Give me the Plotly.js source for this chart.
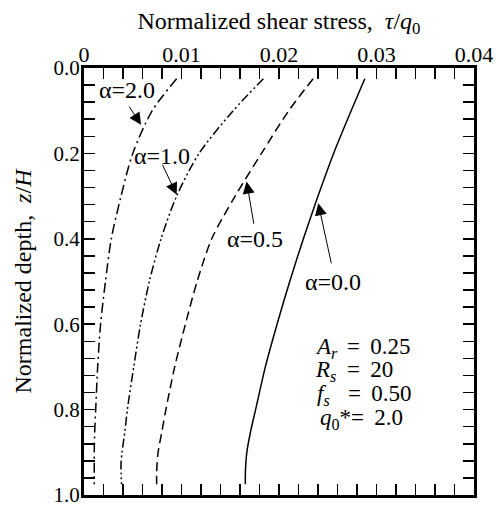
<!DOCTYPE html>
<html>
<head>
<meta charset="utf-8">
<script src="https://cdn.plot.ly/plotly-3.0.1.min.js"></script>
<style>
  html, body { margin: 0; padding: 0; background: #ffffff; }
  #chart { width: 496px; height: 506px; }
</style>
</head>
<body>
<div id="chart"></div>
<script>
// Normalized depth z/H (shared by all curves)
const depth = [0.025, 0.1, 0.2, 0.3, 0.4, 0.5, 0.6, 0.7, 0.8, 0.85, 0.9, 0.925, 0.95, 0.975];

// Normalized shear stress tau/q0 for each alpha
const tauAlpha00 = [0.0288, 0.0274, 0.0256, 0.0240, 0.0225, 0.0211, 0.0198, 0.0186, 0.0176, 0.0171, 0.0167, 0.0166, 0.01655, 0.01655];
const tauAlpha05 = [0.0235, 0.0210, 0.0182, 0.0155, 0.0131, 0.0116, 0.0104, 0.0093, 0.0084, 0.0080, 0.0076, 0.0075, 0.00745, 0.00745];
const tauAlpha10 = [0.0184, 0.0153, 0.0118, 0.0095, 0.0079, 0.0067, 0.0058, 0.0051, 0.00445, 0.0042, 0.0039, 0.0038, 0.0038, 0.00385];
const tauAlpha20 = [0.0095, 0.0070, 0.0050, 0.0038, 0.0028, 0.0022, 0.0017, 0.0014, 0.0012, 0.0011, 0.00105, 0.00105, 0.00105, 0.00105];

const seriesNames = ['α=0.0', 'α=0.5', 'α=1.0', 'α=2.0'];

// Axis ticks
const xTickVals = [0, 0.002, 0.004, 0.006, 0.008, 0.01, 0.012, 0.014, 0.016, 0.018, 0.02,
                   0.022, 0.024, 0.026, 0.028, 0.03, 0.032, 0.034, 0.036, 0.038, 0.04];
const xTickText = ['0', '', '', '', '', '0.01', '', '', '', '', '0.02',
                   '', '', '', '', '0.03', '', '', '', '', '0.04'];
const yTickVals = [0, 0.04, 0.08, 0.12, 0.16, 0.2, 0.24, 0.28, 0.32, 0.36, 0.4, 0.44, 0.48,
                   0.52, 0.56, 0.6, 0.64, 0.68, 0.72, 0.76, 0.8, 0.84, 0.88, 0.92, 0.96, 1.0];
const yTickText = ['0.0', '', '', '', '', '0.2', '', '', '', '', '0.4', '', '',
                   '', '', '0.6', '', '', '', '', '0.8', '', '', '', '', '1.0'];

// Curve labels and their arrows
const labelText = ['α=2.0', 'α=1.0', 'α=0.5', 'α=0.0'];
const labelX = [0.00436, 0.00805, 0.01754, 0.02554];
const labelY = [0.052, 0.206, 0.400, 0.501];
const arrowTailX = [0.00454, 0.00797, 0.01744, 0.02540];
const arrowTailY = [0.087, 0.223, 0.368, 0.461];
const arrowTipX = [0.00585, 0.00951, 0.01668, 0.02403];
const arrowTipY = [0.133, 0.297, 0.266, 0.317];

// Parameter block (symbol part and value part of each line)
const paramSym = ['<i>A<sub>r</sub></i>', '<i>R<sub>s</sub></i>', '<i>f<sub>s</sub></i>', '<i>q</i><sub>0</sub>*'];
const paramVal = ['= \u20090.25', '= \u200920', '= \u20090.50', '= \u20092.0'];
const paramSymX = [0.02349, 0.02349, 0.02369, 0.02400];
const paramValX = [0.02677, 0.02677, 0.02687, 0.02718];
const paramTopY = [0.619, 0.673, 0.729, 0.785];

const FONT = 'Liberation Serif, Times New Roman, serif';

const traces = [
  {x: tauAlpha00, y: depth, name: seriesNames[0], mode: 'lines',
   line: {color: '#000', width: 1.5, dash: 'solid', shape: 'spline', smoothing: 0.8}},
  {x: tauAlpha05, y: depth, name: seriesNames[1], mode: 'lines',
   line: {color: '#000', width: 1.5, dash: '9px,5px', shape: 'spline', smoothing: 0.8}},
  {x: tauAlpha10, y: depth, name: seriesNames[2], mode: 'lines',
   line: {color: '#000', width: 1.5, dash: '9px,3px,2px,3px,2px,3px', shape: 'spline', smoothing: 0.8}},
  {x: tauAlpha20, y: depth, name: seriesNames[3], mode: 'lines',
   line: {color: '#000', width: 1.5, dash: '10px,4px,2px,4px', shape: 'spline', smoothing: 0.8}}
];

const annotations = [];
for (let i = 0; i < labelText.length; i++) {
  annotations.push({x: labelX[i], y: labelY[i], xref: 'x', yref: 'y', text: labelText[i],
    showarrow: false, font: {family: FONT, size: 24, color: '#000'}});
  annotations.push({x: arrowTipX[i], y: arrowTipY[i], ax: arrowTailX[i], ay: arrowTailY[i],
    xref: 'x', yref: 'y', axref: 'x', ayref: 'y', text: '', showarrow: true,
    arrowhead: 2, arrowsize: 2.4, arrowwidth: 1, arrowcolor: '#000', standoff: 0, startstandoff: 0});
}
for (let i = 0; i < paramSym.length; i++) {
  annotations.push({x: paramSymX[i], y: paramTopY[i], xref: 'x', yref: 'y', xanchor: 'left', yanchor: 'top',
    text: paramSym[i], showarrow: false, font: {family: FONT, size: 23, color: '#000'}});
  annotations.push({x: paramValX[i], y: paramTopY[i], xref: 'x', yref: 'y', xanchor: 'left', yanchor: 'top',
    text: paramVal[i], showarrow: false, font: {family: FONT, size: 23, color: '#000'}});
}

const layout = {
  width: 496, height: 506,
  margin: {l: 84, r: 22, t: 68, b: 11, pad: 0},
  paper_bgcolor: '#fff', plot_bgcolor: '#fff',
  showlegend: false,
  font: {family: FONT, color: '#000'},
  xaxis: {
    range: [0, 0.04], side: 'top', tickmode: 'array', tickvals: xTickVals, ticktext: xTickText,
    ticks: 'inside', ticklen: 11, tickwidth: 1.5, tickcolor: '#000',
    showline: true, linewidth: 3, linecolor: '#000', mirror: 'allticks',
    showgrid: false, zeroline: false, ticklabeloverflow: 'allow', ticklabelstandoff: -6,
    tickfont: {family: FONT, size: 22, color: '#000'},
    title: {text: 'Normalized shear stress,\u00a0 <i>τ</i>/<i>q</i><sub>0</sub>',
            font: {family: FONT, size: 24, color: '#000'}, standoff: 6}
  },
  yaxis: {
    range: [1, 0], tickmode: 'array', tickvals: yTickVals, ticktext: yTickText,
    ticks: 'inside', ticklen: 11, tickwidth: 1.5, tickcolor: '#000',
    showline: true, linewidth: 3, linecolor: '#000', mirror: 'allticks',
    showgrid: false, zeroline: false, ticklabeloverflow: 'allow', ticklabelstandoff: -3,
    tickfont: {family: FONT, size: 21, color: '#000'},
    title: {text: 'Normalized depth,\u00a0 <i>z</i>/<i>H</i>',
            font: {family: FONT, size: 24, color: '#000'}, standoff: 16}
  },
  annotations: annotations
};

Plotly.newPlot('chart', traces, layout, {staticPlot: true, displayModeBar: false});
</script>
</body>
</html>
